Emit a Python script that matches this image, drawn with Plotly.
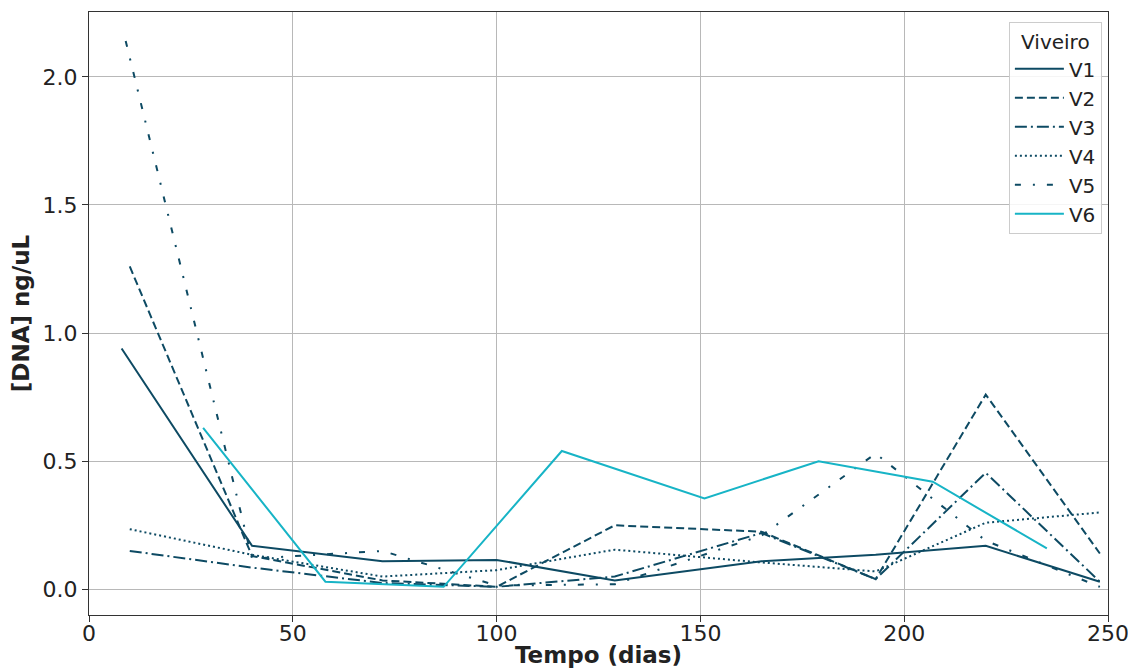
import plotly.graph_objects as go

# Sampling days
days_v1 = [8, 40, 72, 100, 129, 165, 193, 220, 248]
days_v2_v4 = [10, 40, 72, 100, 129, 165, 193, 220, 248]
days_v5 = [9, 40, 72, 100, 129, 165, 193, 220, 248]
days_v6 = [28, 58, 87, 116, 151, 179, 207, 235]

v1 = [0.94, 0.17, 0.11, 0.115, 0.035, 0.11, 0.135, 0.17, 0.03]
v2 = [1.26, 0.13, 0.035, 0.01, 0.25, 0.225, 0.04, 0.76, 0.14]
v3 = [0.15, 0.085, 0.025, 0.01, 0.05, 0.22, 0.04, 0.455, 0.03]
v4 = [0.235, 0.135, 0.05, 0.075, 0.155, 0.105, 0.07, 0.26, 0.30]
v5 = [2.14, 0.12, 0.15, 0.015, 0.02, 0.21, 0.53, 0.19, 0.01]
v6 = [0.63, 0.03, 0.01, 0.54, 0.355, 0.50, 0.42, 0.16]

names = ["V1", "V2", "V3", "V4", "V5", "V6"]
dark = "#0d4a63"
cyan = "#17b4c6"

series = [
    (days_v1, v1, "solid", dark),
    (days_v2_v4, v2, "8px,4px", dark),
    (days_v2_v4, v3, "12px,4px,2px,4px", dark),
    (days_v2_v4, v4, "2px,3px", dark),
    (days_v5, v5, "6px,12px,2px,12px", dark),
    (days_v6, v6, "solid", cyan),
]

fig = go.Figure()
for name, (x, y, dash, color) in zip(names, series):
    fig.add_trace(go.Scatter(
        x=x, y=y, mode="lines", name=name,
        line=dict(color=color, width=2, dash=dash),
    ))

axis_common = dict(
    showline=True, linecolor="#333333", linewidth=1.2, mirror=True,
    ticks="outside", ticklen=6, tickcolor="#333333",
    showgrid=True, gridcolor="#b8b8b8", gridwidth=1, zeroline=False,
    tickfont=dict(family="DejaVu Sans", size=22, color="#222222"),
    automargin=False,
)

# page body has an 8px margin, so the figure is sized to fill the rest of the window
fig.update_layout(
    width=1128, height=660,
    margin=dict(l=81, r=28, t=4, b=53),
    paper_bgcolor="white", plot_bgcolor="white",
    font=dict(family="DejaVu Sans", color="#222222"),
    xaxis=dict(range=[0, 250], tickvals=[0, 50, 100, 150, 200, 250],
               ticklabelstandoff=-8,
               title=dict(text="<b>Tempo (dias)</b>", font=dict(size=23), standoff=5),
               **axis_common),
    yaxis=dict(range=[-0.1, 2.253], tickvals=[0, 0.5, 1.0, 1.5, 2.0],
               ticktext=["0.0", "0.5", "1.0", "1.5", "2.0"],
               title=dict(text="<b>[DNA] ng/uL</b>", font=dict(size=23), standoff=8),
               **axis_common),
    legend=dict(
        title=dict(text="Viveiro", font=dict(size=20), side="top center"),
        x=0.994, y=0.983, xanchor="right", yanchor="top",
        bgcolor="rgba(255,255,255,0.85)", bordercolor="#cccccc", borderwidth=1,
        font=dict(size=20), itemwidth=49,
    ),
    showlegend=True,
)

fig.write_html("out.html")
